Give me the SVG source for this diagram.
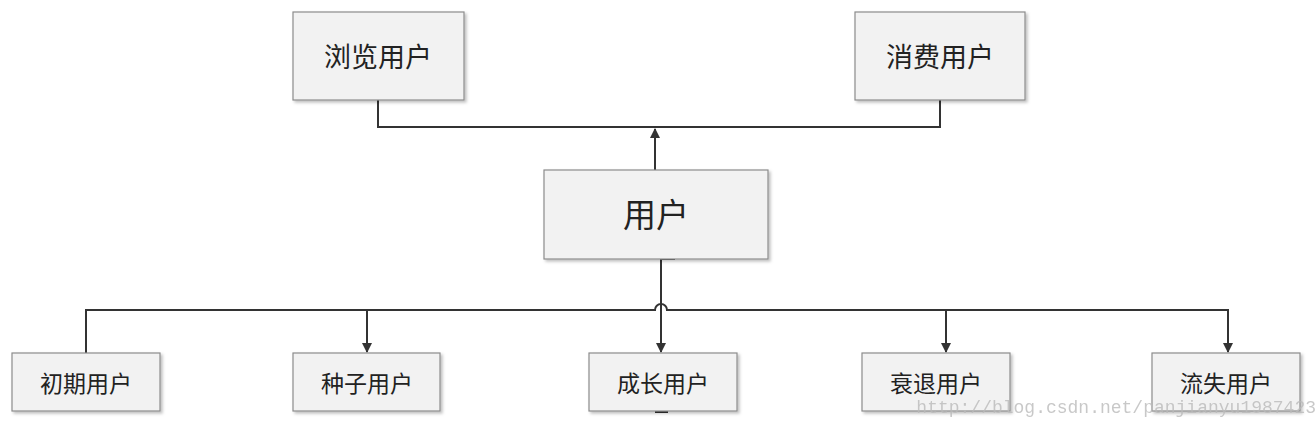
<svg xmlns="http://www.w3.org/2000/svg" width="1316" height="427" viewBox="0 0 1316 427">
<style>
.b{fill:#f2f2f2;stroke:#8c8c8c;stroke-width:1.2}
.t{font-family:"Noto Sans CJK SC","Liberation Serif",serif;fill:#222;text-anchor:middle;dominant-baseline:central}
.c{fill:none;stroke:#333;stroke-width:2}
</style>
<defs>
<linearGradient id="g" x1="0" y1="0" x2="0" y2="1"><stop offset="0" stop-color="#fafafa"/><stop offset="1" stop-color="#ececec"/></linearGradient>
<marker id="a" markerWidth="10" markerHeight="10" refX="9" refY="5" orient="auto" markerUnits="userSpaceOnUse"><path d="M0,0L10,5L0,10z" fill="#333"/></marker>
<filter id="s"><feDropShadow dx="2" dy="2" stdDeviation="1.5" flood-opacity="0.25"/></filter>
</defs>
<g id="connectors">
<path class="c" d="M378,100V127H940V100"/>
<path class="c" d="M655,170V129" marker-end="url(#a)"/>
<path class="c" d="M675,259H661V352" marker-end="url(#a)"/>
<path class="c" d="M86,353V310H655A6,6 0 0 1 667,310H1228V352" marker-end="url(#a)"/>
<path class="c" d="M367,310V352" marker-end="url(#a)"/>
<path class="c" d="M946,310V352" marker-end="url(#a)"/>
<path class="c" d="M655,412H668"/>
</g>
<g id="n1"><rect class="b" x="293" y="12" width="171" height="88" fill="url(#g)" filter="url(#s)"/><text class="t" x="378" y="55" font-size="27">浏览用户</text></g>
<g id="n2"><rect class="b" x="855" y="12" width="170" height="88" fill="url(#g)" filter="url(#s)"/><text class="t" x="940" y="55" font-size="27">消费用户</text></g>
<g id="n3"><rect class="b" x="544" y="170" width="224" height="89" fill="url(#g)" filter="url(#s)"/><text class="t" x="656" y="213" font-size="33">用户</text></g>
<g id="n4"><rect class="b" x="12" y="353" width="148" height="58" fill="url(#g)" filter="url(#s)"/><text class="t" x="86" y="382" font-size="23">初期用户</text></g>
<g id="n5"><rect class="b" x="293" y="353" width="147" height="58" fill="url(#g)" filter="url(#s)"/><text class="t" x="367" y="382" font-size="23">种子用户</text></g>
<g id="n6"><rect class="b" x="589" y="353" width="148" height="58" fill="url(#g)" filter="url(#s)"/><text class="t" x="663" y="382" font-size="23">成长用户</text></g>
<g id="n7"><rect class="b" x="862" y="353" width="148" height="58" fill="url(#g)" filter="url(#s)"/><text class="t" x="936" y="382" font-size="23">衰退用户</text></g>
<g id="n8"><rect class="b" x="1152" y="353" width="148" height="58" fill="url(#g)" filter="url(#s)"/><text class="t" x="1226" y="382" font-size="23">流失用户</text></g>
<text x="1316" y="413" text-anchor="end" font-family="Liberation Mono,monospace" font-size="18" fill="#bbb" opacity="0.8">http://blog.csdn.net/panjianyu1987423</text>
</svg>
